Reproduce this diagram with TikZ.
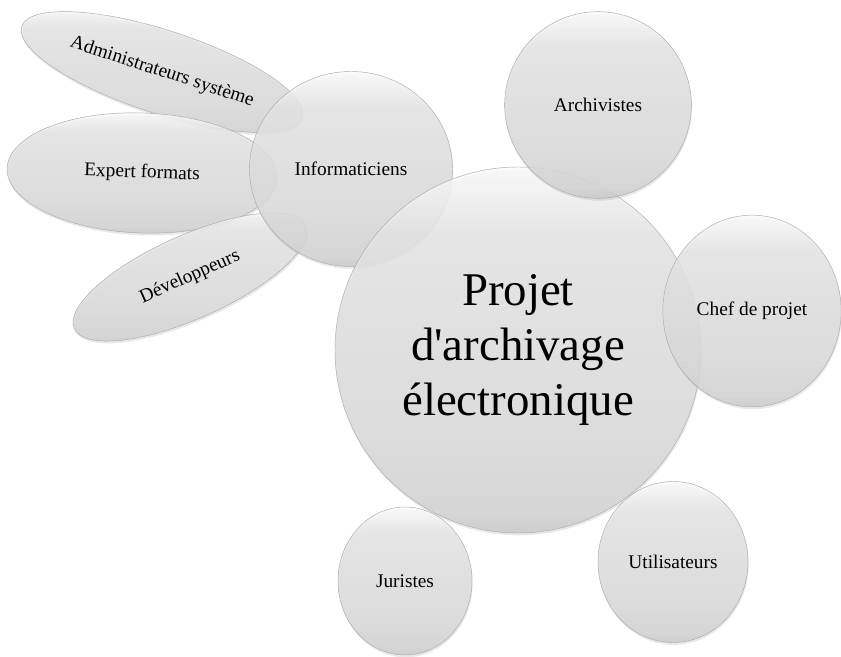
\documentclass[tikz,border=0pt]{standalone}
\usepackage{fontspec}
\newfontfamily\lblfont{Liberation Serif}
\usetikzlibrary{shapes.geometric,shadows}
\pgfdeclareverticalshading{bubshade}{100bp}{%
  color(0bp)=(gray!42); color(25bp)=(gray!42); color(28bp)=(gray!34);
  color(40bp)=(gray!28); color(55bp)=(gray!24); color(66bp)=(gray!20);
  color(71bp)=(gray!10); color(75bp)=(gray!3); color(100bp)=(gray!3)}
\tikzset{
  bubble/.style={circle, shading=bubshade, draw=gray!65, line width=0.4pt,
    fill opacity=0.85, text opacity=1, inner sep=0pt,
    drop shadow={opacity=0.18, shadow xshift=0.6pt, shadow yshift=-2pt},
    font=\lblfont\fontsize{16.5}{19}\selectfont},
  oval/.style={bubble, ellipse}
}
\begin{document}
\begin{tikzpicture}[x=0.03cm,y=-0.03cm]
\useasboundingbox[fill=white] (0,0) rectangle (841,657);
% satellite ellipses
\node[oval, minimum width=8.85cm, minimum height=2.5cm, rotate=-18] (admin) at (162,72) {Administrateurs système};
\node[oval, minimum width=8.1cm, minimum height=3.6cm, rotate=-2] (expert) at (142,173) {Expert formats};
\node[oval, minimum width=7.6cm, minimum height=2.5cm, rotate=24] (dev) at (190,277) {Développeurs};
% circles
\node[bubble, ellipse, minimum width=6.09cm, minimum height=5.85cm] (info) at (351,169) {Informaticiens};
\node[bubble, minimum size=10.98cm, font=\lblfont\fontsize{40}{47}\selectfont, align=center] (main) at (518,350) {Projet\\d'archivage\\électronique};
\node[bubble, minimum size=5.6cm] (arch) at (598,105) {Archivistes};
\node[bubble, ellipse, minimum width=5.35cm, minimum height=5.75cm] (chef) at (752,311) {Chef de projet};
\node[bubble, ellipse, minimum width=4.02cm, minimum height=4.44cm] (jur) at (405,581) {Juristes};
\node[bubble, ellipse, minimum width=4.5cm, minimum height=4.83cm] (util) at (673,562) {Utilisateurs};
\end{tikzpicture}
\end{document}
